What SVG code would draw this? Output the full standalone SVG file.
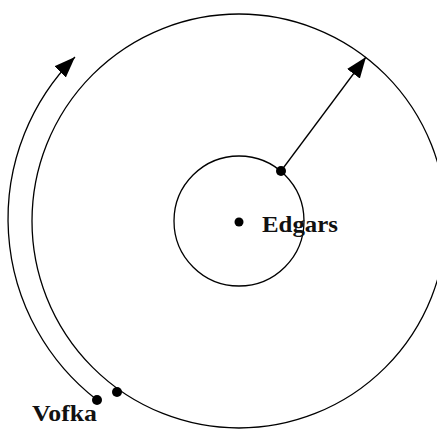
<svg xmlns="http://www.w3.org/2000/svg" width="437" height="432" viewBox="0 0 437 432">
  <defs>
    <marker id="arrow" markerUnits="userSpaceOnUse" markerWidth="24" markerHeight="18" refX="21" refY="8" orient="auto">
      <path d="M0,0 L21,8 L0,16 z" fill="#000"/>
    </marker>
  </defs>
  <style>
    .orbit { fill: none; stroke: #000; stroke-width: 1.3; }
    .dot { fill: #000; }
    .label { font-family: "Liberation Serif", "Times New Roman", serif; font-weight: bold; font-size: 24px; fill: #111; }
  </style>
  <rect width="437" height="432" fill="#fff"/>
  <g id="outer-orbit">
    <circle class="orbit" cx="239" cy="221" r="207"/>
  </g>
  <g id="inner-orbit">
    <circle class="orbit" cx="239" cy="221" r="65"/>
  </g>
  <g id="connectors">
    <line class="orbit" x1="281" y1="171" x2="366" y2="57" marker-end="url(#arrow)"/>
    <path class="orbit" d="M97,400 A229,229 0 0 1 75,57" marker-end="url(#arrow)"/>
  </g>
  <g id="edgars">
    <circle class="dot" cx="239" cy="222" r="4.5"/>
    <circle class="dot" cx="281" cy="171" r="5"/>
    <text class="label" x="262" y="232" textLength="76" lengthAdjust="spacingAndGlyphs">Edgars</text>
  </g>
  <g id="vofka">
    <circle class="dot" cx="117" cy="392" r="5"/>
    <circle class="dot" cx="97" cy="400" r="5"/>
    <text class="label" x="32" y="421" textLength="65" lengthAdjust="spacingAndGlyphs">Vofka</text>
  </g>
</svg>
